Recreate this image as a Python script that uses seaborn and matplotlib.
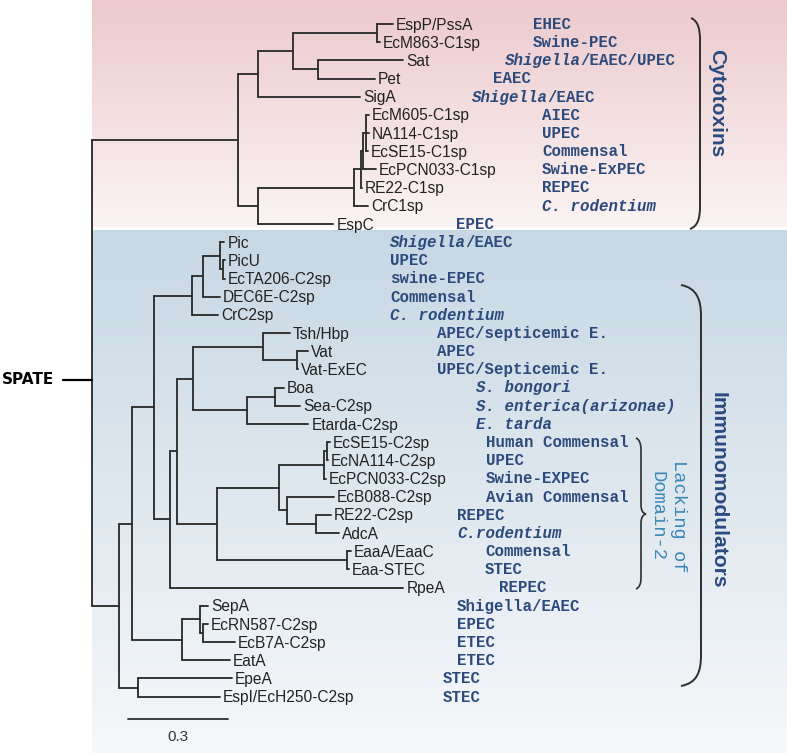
import numpy as np
import pandas as pd
import matplotlib
matplotlib.use("Agg")
import matplotlib.pyplot as plt
import seaborn as sns
from matplotlib.path import Path
from matplotlib.patches import PathPatch

# ---------------- data: tree (node, parent, branch length) ----------------
node_names = [
    "root", "CT", "A", "A1", "EE", "EspP/PssA", "EcM863-C1sp", "SP", "Sat", "Pet",
    "SigA", "B", "C", "D", "E", "F", "EcM605-C1sp", "NA114-C1sp", "EcSE15-C1sp",
    "EcPCN033-C1sp", "RE22-C1sp", "CrC1sp", "EspC",
    "IM", "I1", "I2", "P", "P1", "P2", "Pic", "P3", "PicU", "EcTA206-C2sp",
    "DEC6E-C2sp", "CrC2sp", "I3", "I4", "I5", "TV", "Tsh/Hbp", "VV", "Vat",
    "Vat-ExEC", "BSE", "BS", "Boa", "Sea-C2sp", "Etarda-C2sp", "I6", "I7", "S0",
    "S1", "EcSE15-C2sp", "EcNA114-C2sp", "EcPCN033-C2sp", "I8", "EcB088-C2sp",
    "RA", "RE22-C2sp", "AdcA", "EAA", "EaaA/EaaC", "Eaa-STEC", "RpeA", "Q", "Q1",
    "SepA", "Q2", "EcRN587-C2sp", "EcB7A-C2sp", "EatA", "EPE", "EpeA",
    "EspI/EcH250-C2sp",
]
node_parents = [
    None, "root", "CT", "A", "A1", "EE", "EE", "A1", "SP", "SP",
    "A", "CT", "B", "C", "D", "E", "F", "F", "F",
    "E", "D", "C", "B",
    "root", "IM", "I1", "I2", "P", "P1", "P2", "P2", "P3", "P3",
    "P1", "P", "I2", "I3", "I4", "I5", "TV", "TV", "VV",
    "VV", "I5", "BSE", "BS", "BS", "BSE", "I4", "I6", "I7",
    "S0", "S1", "S1", "S0", "I7", "I8",
    "I8", "RA", "RA", "I6", "EAA", "EAA", "I3", "I1", "Q",
    "Q1", "Q1", "Q2", "Q2", "Q", "IM", "EPE",
    "EPE",
]
branch_lengths = [
    0.0, 0.439, 0.058, 0.105, 0.252, 0.049, 0.010, 0.075, 0.257, 0.172,
    0.307, 0.058, 0.289, 0.021, 0.007, 0.007, 0.010, 0.010, 0.007,
    0.038, 0.003, 0.042, 0.227,
    0.082, 0.037, 0.067, 0.115, 0.031, 0.053, 0.012, 0.009, 0.005, 0.004,
    0.052, 0.077, 0.048, 0.022, 0.048, 0.210, 0.080, 0.100, 0.034,
    0.004, 0.160, 0.085, 0.027, 0.075, 0.185, 0.118, 0.186, 0.137,
    0.007, 0.010, 0.004, 0.005, 0.024, 0.142,
    0.088, 0.045, 0.069, 0.390, 0.013, 0.007, 0.700, 0.150, 0.055,
    0.025, 0.010, 0.013, 0.095, 0.145, 0.057, 0.280,
    0.245,
]

# host annotation per leaf (leaf order); *...* = italic
host_labels = [
    "EHEC", "Swine-PEC", "*Shigella*/EAEC/UPEC", "EAEC", "*Shigella*/EAEC",
    "AIEC", "UPEC", "Commensal", "Swine-ExPEC", "REPEC", "*C. rodentium*", "EPEC",
    "*Shigella*/EAEC", "UPEC", "swine-EPEC", "Commensal", "*C. rodentium*",
    "APEC/septicemic E.", "APEC", "UPEC/Septicemic E.",
    "*S. bongori*", "*S. enterica(arizonae)*", "*E. tarda*",
    "Human Commensal", "UPEC", "Swine-EXPEC", "Avian Commensal",
    "REPEC", "*C.rodentium*", "Commensal", "STEC", "REPEC",
    "Shigella/EAEC", "EPEC", "ETEC", "ETEC", "STEC", "STEC",
]
group_labels = ["Cytotoxins", "Immunomodulators"]
subgroup_label = ["Lacking of", "Domain-2"]
root_label = "SPATE"
scale_value = 0.3

# ---------------- layout (pixel geometry of the 787x753 figure) ----------------
W, H = 787, 753
ROOT_PX = 92.0
PX_PER_UNIT = 333.33
TOP_PX = 24.0
ROW_PX = 18.18
annot_x_px = [533, 533, 505, 493, 472, 542, 542, 542, 542, 542, 542, 456,
              390, 390, 390, 390, 390, 437, 437, 437, 476, 476, 476,
              486, 486, 486, 486, 457, 457, 485, 485, 499, 457, 457, 457, 457,
              443, 443]


def px2x(px):
    return (px - ROOT_PX) / PX_PER_UNIT


def px2y(py):
    return (py - TOP_PX) / ROW_PX


# ---------------- compute tree geometry ----------------
parent_of = dict(zip(node_names, node_parents))
bl_of = dict(zip(node_names, branch_lengths))
children = {n: [] for n in node_names}
for n, p in zip(node_names, node_parents):
    if p is not None:
        children[p].append(n)
leaves = [n for n in node_names if not children[n]]
depth = {}
for n in node_names:
    p = parent_of[n]
    depth[n] = 0.0 if p is None else depth[p] + bl_of[n]
ypos = {}
for i, lf in enumerate(leaves):
    ypos[lf] = float(i)
for n in reversed(node_names):
    if children[n]:
        ys = [ypos[c] for c in children[n]]
        ypos[n] = (min(ys) + max(ys)) / 2.0

rows = []
seg = 0
for n in node_names:
    p = parent_of[n]
    if p is not None:
        rows += [(seg, depth[p], ypos[n]), (seg, depth[n], ypos[n])]
        seg += 1
    if children[n]:
        ys = [ypos[c] for c in children[n]]
        rows += [(seg, depth[n], min(ys)), (seg, depth[n], max(ys))]
        seg += 1
segs = pd.DataFrame(rows, columns=["seg", "x", "y"])

# ---------------- figure ----------------
sns.set_theme(style="white")
fig = plt.figure(figsize=(W / 100, H / 100), dpi=100)
ax = fig.add_axes([0, 0, 1, 1])

x0, x1 = px2x(0), px2x(W)
y0, y1 = px2y(0), px2y(H)


def gradient(top, bottom, ytop_px, ybot_px, xl_px):
    n = 256
    t = np.linspace(0, 1, n)[:, None]
    arr = (np.array(top)[None, :] * (1 - t) + np.array(bottom)[None, :] * t)[:, None, :]
    ax.imshow(arr, extent=[px2x(xl_px), x1, px2y(ybot_px), px2y(ytop_px)],
              origin="upper", aspect="auto", zorder=0, interpolation="bilinear")


gradient((0.925, 0.79, 0.805), (0.985, 0.955, 0.955), 0, 227.5, ROOT_PX)
gradient((0.78, 0.845, 0.895), (0.965, 0.972, 0.98), 230, H, ROOT_PX)

line_col = "#2e2e2e"
sns.lineplot(data=segs, x="x", y="y", units="seg", estimator=None, sort=False,
             color=line_col, linewidth=1.35, ax=ax, legend=False, zorder=3)

# leaf labels
leaf_fs = 11.2
leaf_off = px2x(ROOT_PX + 3.0)
cap_rows = 0.716 * leaf_fs * 100 / 72 / 2 / ROW_PX
for lf in leaves:
    ax.text(depth[lf] + leaf_off, ypos[lf] + cap_rows, lf, ha="left", va="baseline",
            fontsize=leaf_fs, family="Liberation Sans", color="#222222", zorder=4)

# host annotations
ann_fs = 11.3
ann_col = "#2c4a7c"
cw_px = 0.6 * ann_fs * 100 / 72
ann_cap = 0.62 * ann_fs * 100 / 72 / 2 / ROW_PX
for i, (lab, xp) in enumerate(zip(host_labels, annot_x_px)):
    parts = lab.split("*")
    off = 0.0
    for k, part in enumerate(parts):
        if not part:
            continue
        ax.text(px2x(xp + off), ypos[leaves[i]] + ann_cap, part, ha="left", va="baseline",
                fontsize=ann_fs, family="Liberation Mono", weight="bold",
                style="italic" if k % 2 == 1 else "normal", color=ann_col, zorder=4)
        off += len(part) * cw_px


def draw_path(pts_px, codes, lw=1.4):
    verts = [(px2x(a), px2y(b)) for a, b in pts_px]
    ax.add_patch(PathPatch(Path(verts, codes), fill=False, edgecolor=line_col,
                           linewidth=lw, zorder=4))


M, L, C4, C3 = Path.MOVETO, Path.LINETO, Path.CURVE4, Path.CURVE3
# Cytotoxins bracket
draw_path([(691, 18), (698, 21), (700, 29), (700, 40), (700, 206),
           (700, 218), (698, 226), (690, 229)], [M, C4, C4, C4, L, C4, C4, C4])
# Immunomodulators bracket
draw_path([(681, 285), (697, 288), (701, 300), (701, 316), (701, 655),
           (701, 672), (697, 683), (681, 686)], [M, C4, C4, C4, L, C4, C4, C4])
# Lacking-of-Domain-2 brace
draw_path([(636, 438), (641, 440), (641, 450), (641, 505), (641, 513), (646, 514),
           (641, 515), (641, 523), (641, 578), (641, 587), (636, 589)],
          [M, C3, C3, L, C3, C3, C3, C3, L, C3, C3], lw=1.2)

grp_col = "#2b4a80"
ax.text(px2x(717), px2y(103), group_labels[0], rotation=270, ha="center", va="center",
        fontsize=15, weight="bold", family="Liberation Sans", color=grp_col, zorder=4)
ax.text(px2x(718), px2y(490), group_labels[1], rotation=270, ha="center", va="center",
        fontsize=15.2, weight="bold", family="Liberation Sans", color=grp_col, zorder=4)
sub_col = "#3a87b6"
ax.text(px2x(679), px2y(516), subgroup_label[0], rotation=270, ha="center", va="center",
        fontsize=13.5, family="Liberation Mono", color=sub_col, zorder=4)
ax.text(px2x(657), px2y(516), subgroup_label[1], rotation=270, ha="center", va="center",
        fontsize=13.5, family="Liberation Mono", color=sub_col, zorder=4)

# root stem and SPATE label
ax.plot([px2x(63), px2x(ROOT_PX)], [px2y(380), px2y(380)], color="black", lw=1.6, zorder=4)
ax.text(px2x(2), px2y(380), root_label, ha="left", va="center", fontsize=11,
        weight="bold", family="DejaVu Sans", color="black", zorder=4)

# scale bar
sb_x = px2x(128)
ax.plot([sb_x, sb_x + scale_value], [px2y(719), px2y(719)], color=line_col, lw=1.3, zorder=4)
ax.text(sb_x + scale_value / 2, px2y(737), f"{scale_value:g}", ha="center", va="center",
        fontsize=11, family="Liberation Sans", color="#333333", zorder=4)

ax.set_xlim(x0, x1)
ax.set_ylim(y1, y0)
ax.axis("off")
fig.savefig("out.png", dpi=100, facecolor="white")
